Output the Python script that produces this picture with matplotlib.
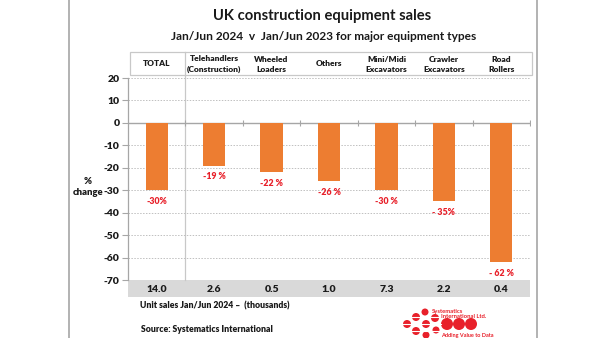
import matplotlib.pyplot as plt
import matplotlib.transforms as mtransforms
from matplotlib.patches import Rectangle, Circle

plt.rcParams['font.family'] = ['Lato', 'DejaVu Sans']

# chart data
categories = ['TOTAL', 'Telehandlers\n(Construction)', 'Wheeled\nLoaders', 'Others',
              'Mini/Midi\nExcavators', 'Crawler\nExcavators', 'Road\nRollers']
pct_change = [-30, -19, -22, -26, -30, -35, -62]
pct_labels = ['-30%', '-19 %', '-22 %', '-26 %', '-30 %', '- 35%', '- 62 %']
unit_sales = ['14.0', '2.6', '0.5', '1.0', '7.3', '2.2', '0.4']
yticks = [20, 10, 0, -10, -20, -30, -40, -50, -60, -70]

ORANGE = '#ED7D31'
RED = '#E8202A'
GREY = '#BFBFBF'
TXT = '#1a1a1a'
WT = 'heavy'

W, H = 600, 338
fig = plt.figure(figsize=(W / 100, H / 100), dpi=100)

# pixel-space overlay for frame, titles, footnotes
ov = fig.add_axes([0, 0, 1, 1])
ov.set_xlim(0, W)
ov.set_ylim(H, 0)
ov.axis('off')

ov.plot([69, 69], [0, H], color='#a6a6a6', lw=1.2)
ov.plot([537, 537], [0, H], color='#a6a6a6', lw=1.2)

ov.text(322, 16, 'UK construction equipment sales', ha='center', va='center',
        fontsize=10.6, fontweight='bold', color=TXT)
ov.text(324, 37, 'Jan/Jun 2024  v  Jan/Jun 2023 for major equipment types', ha='center',
        va='center', fontsize=8.6, fontweight='bold', color=TXT)

# header box for category names
ov.add_patch(Rectangle((130, 52), 402, 23, facecolor='white', edgecolor='#c8c8c8', lw=0.9))

# main axes
x0, x1, ytop, ybot = 128, 530, 78, 280
ax = fig.add_axes([x0 / W, 1 - ybot / H, (x1 - x0) / W, (ybot - ytop) / H])
ax.patch.set_visible(False)
xs = list(range(len(categories)))
ax.bar(xs, pct_change, width=0.39, color=ORANGE, zorder=3)
ax.set_xlim(-0.5, len(categories) - 0.5)
ax.set_ylim(-70, 20)
ax.set_yticks(yticks)
ax.set_yticklabels([str(t) for t in yticks], fontsize=7.5, fontweight=WT, color=TXT)
ax.tick_params(axis='y', length=4, width=0.8, color='#a6a6a6', pad=2)
ax.set_xticks([])
for s in ['top', 'right', 'bottom']:
    ax.spines[s].set_visible(False)
ax.spines['left'].set_color('#a6a6a6')
ax.spines['left'].set_linewidth(0.9)
for t in yticks:
    if t != 0:
        ax.axhline(t, color='#c0c0c0', lw=0.7, ls=(0, (1.5, 1.5)), zorder=1)
ax.axhline(0, color='#a6a6a6', lw=1.0, zorder=2)
ax.plot([i + 0.5 for i in xs[:-1]] + [6.5], [0] * len(xs), ls='none', marker='|',
        ms=4, mew=0.8, color='#a6a6a6', zorder=2)

for i, (v, lab) in enumerate(zip(pct_change, pct_labels)):
    ax.annotate(lab, (i, v), xytext=(0, -8), textcoords='offset points', ha='center',
                va='center', fontsize=6.3, fontweight=WT, color=RED)

# x in data units, y in overlay pixels
bt = mtransforms.blended_transform_factory(ax.transData, ov.transData)
ov.plot([0.5, 0.5], [52, 280], color='#c8c8c8', lw=0.9, transform=bt)
for i, c in enumerate(categories):
    ov.text(i, 64, c, ha='center', va='center', fontsize=6.0, fontweight=WT,
            color=TXT, transform=bt, linespacing=1.5)

ov.add_patch(Rectangle((-0.5, 280), 7, 17, facecolor='#d9d9d9', edgecolor='none',
                       transform=bt))
for i, u in enumerate(unit_sales):
    ov.text(i, 289, u, ha='center', va='center', fontsize=7.5, fontweight=WT,
            color=TXT, transform=bt)

ov.text(88, 187, '%\nchange', ha='center', va='center', fontsize=6.8,
        fontweight=WT, color=TXT, linespacing=1.3)

ov.text(140, 306, 'Unit sales Jan/Jun 2024 \u2013  (thousands)', ha='left', va='center',
        fontsize=6.2, fontweight=WT, color=TXT)
ov.text(141, 329, 'Source: Systematics International', ha='left', va='center',
        fontsize=6.2, fontweight=WT, color=TXT)

# company logo: striped red dots
for cx, cy, r in [(407, 324, 4), (416, 317, 4), (425, 312, 3.5), (416, 331, 4),
                  (426, 324, 4), (435, 318, 4), (426, 335, 3.5), (436, 330, 3.5),
                  (447, 324, 6), (459, 324, 6), (471, 324, 6)]:
    ov.add_patch(Circle((cx, cy), r, color=RED, lw=0))
for yy in [317, 324, 331]:
    ov.plot([401, 441], [yy, yy], color='white', lw=0.8)
ov.text(432, 311, 'Systematics', fontsize=4.2, fontweight='bold', color=RED,
        ha='left', va='center')
ov.text(441, 316, 'International Ltd.', fontsize=4.2, fontweight='bold', color=RED,
        ha='left', va='center')
ov.text(441, 335, 'Adding Value to Data', fontsize=4.0, fontweight='bold', color=RED,
        ha='left', va='center')

fig.savefig('out.png', dpi=100)
